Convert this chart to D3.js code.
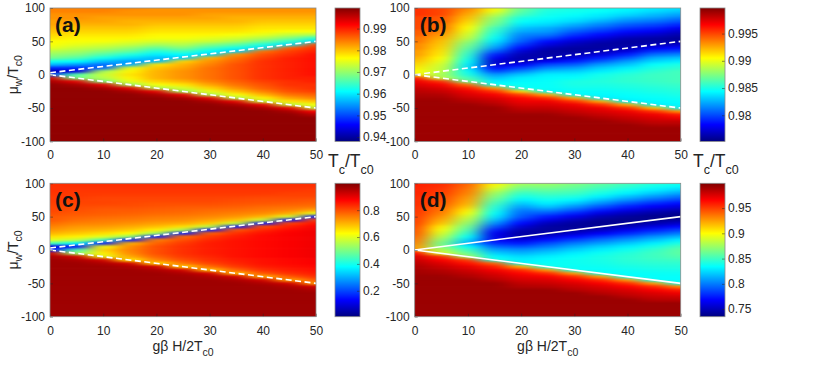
<!DOCTYPE html>
<html>
<head>
<meta charset="utf-8">
<script src="https://cdn.jsdelivr.net/npm/d3@7"></script>
<style>
  body { margin: 0; background: #fff; }
  svg { display: block; }
  text { font-family: "Liberation Sans", Arial, Helvetica, sans-serif; fill: #262626; }
</style>
</head>
<body>
<div id="chart"></div>
<script>
// grid: one column per field value h, rows go from mu = 100 down to mu = -100
const hVals = [0, 5, 10, 15, 20, 25, 30, 35, 40, 45, 50];
const muVals = [100, 95, 90, 85, 80, 75, 70, 65, 60, 55, 50, 45, 40, 35, 30, 25, 20, 15, 10, 5, 0,
  -5, -10, -15, -20, -25, -30, -35, -40, -45, -50, -55, -60, -65, -70, -75, -80, -85, -90, -95, -100];
const xTicks = [0, 10, 20, 30, 40, 50];
const yTicks = [-100, -50, 0, 50, 100];

// Tc/Tc0
const tcA = [
  [.984,.984,.983,.983,.982,.982,.981,.980,.979,.978,.9765,.976,.975,.972,.970,.968,.962,.957,.948,.941,.950,.994,.997,.9985,.9985,.9985,.9985,.9985,.9985,.9985,.9985,.9985,.9985,.9985,.9985,.9985,.9985,.9985,.9985,.9985,.9985],
  [.984,.984,.983,.983,.982,.981,.980,.979,.978,.977,.976,.975,.973,.971,.969,.966,.961,.955,.948,.944,.966,.968,.993,.997,.9985,.9985,.9985,.9985,.9985,.9985,.9985,.9985,.9985,.9985,.9985,.9985,.9985,.9985,.9985,.9985,.9985],
  [.984,.984,.983,.982,.982,.981,.980,.979,.978,.977,.976,.974,.972,.969,.966,.962,.957,.952,.952,.971,.973,.972,.968,.993,.997,.9985,.9985,.9985,.9985,.9985,.9985,.9985,.9985,.9985,.9985,.9985,.9985,.9985,.9985,.9985,.9985],
  [.984,.983,.983,.982,.981,.981,.980,.979,.978,.977,.975,.973,.970,.967,.963,.959,.955,.956,.975,.977,.978,.977,.975,.970,.993,.997,.9985,.9985,.9985,.9985,.9985,.9985,.9985,.9985,.9985,.9985,.9985,.9985,.9985,.9985,.9985],
  [.983,.983,.983,.982,.981,.980,.979,.978,.977,.976,.974,.971,.967,.963,.960,.957,.957,.978,.980,.981,.981,.981,.979,.976,.971,.993,.997,.9985,.9985,.9985,.9985,.9985,.9985,.9985,.9985,.9985,.9985,.9985,.9985,.9985,.9985],
  [.983,.983,.983,.982,.981,.980,.979,.978,.977,.976,.974,.972,.969,.965,.961,.958,.979,.981,.982,.983,.983,.983,.981,.978,.974,.970,.993,.997,.9985,.9985,.9985,.9985,.9985,.9985,.9985,.9985,.9985,.9985,.9985,.9985,.9985],
  [.983,.983,.982,.982,.981,.980,.979,.978,.977,.975,.973,.969,.965,.961,.958,.981,.983,.984,.985,.985,.985,.985,.984,.982,.979,.975,.971,.993,.997,.9985,.9985,.9985,.9985,.9985,.9985,.9985,.9985,.9985,.9985,.9985,.9985],
  [.983,.983,.982,.981,.981,.980,.979,.978,.976,.974,.971,.967,.962,.958,.983,.985,.986,.987,.987,.987,.987,.987,.986,.985,.983,.980,.976,.971,.993,.997,.9985,.9985,.9985,.9985,.9985,.9985,.9985,.9985,.9985,.9985,.9985],
  [.983,.983,.982,.981,.980,.979,.978,.977,.975,.972,.968,.963,.959,.985,.987,.988,.989,.989,.989,.989,.989,.989,.988,.987,.986,.984,.981,.977,.972,.993,.997,.9985,.9985,.9985,.9985,.9985,.9985,.9985,.9985,.9985,.9985],
  [.983,.983,.982,.981,.980,.979,.978,.976,.973,.969,.964,.959,.986,.988,.989,.990,.990,.990,.990,.990,.990,.990,.989,.989,.988,.987,.985,.982,.978,.972,.993,.997,.9985,.9985,.9985,.9985,.9985,.9985,.9985,.9985,.9985],
  [.983,.983,.982,.981,.980,.979,.978,.976,.972,.964,.959,.987,.989,.990,.991,.991,.991,.991,.991,.991,.991,.990,.990,.989,.989,.988,.986,.984,.980,.976,.972,.992,.996,.9985,.9985,.9985,.9985,.9985,.9985,.9985,.9985]
];

// Tc/Tc0
const tcB = [
  [.9955,.9955,.9955,.995,.995,.995,.995,.9945,.9945,.994,.994,.9935,.9935,.993,.993,.9925,.992,.9915,.991,.9905,.991,.996,.997,.9975,.998,.9983,.9986,.9988,.999,.999,.999,.999,.999,.999,.999,.999,.999,.999,.999,.999,.999],
  [.995,.995,.995,.9945,.9945,.994,.994,.9935,.993,.9925,.992,.9918,.9915,.9912,.991,.9905,.990,.9895,.9892,.989,.9885,.989,.9955,.9968,.9975,.998,.9985,.9988,.999,.999,.999,.999,.999,.999,.999,.999,.999,.999,.999,.999,.999],
  [.9935,.993,.9925,.992,.9915,.991,.9905,.990,.9895,.989,.988,.9873,.9867,.986,.9855,.985,.9845,.984,.9838,.9845,.985,.986,.987,.994,.996,.997,.9975,.998,.9985,.999,.999,.999,.999,.999,.999,.999,.999,.999,.999,.999,.999],
  [.9905,.990,.989,.988,.9875,.987,.986,.9855,.985,.9845,.9838,.983,.982,.9805,.979,.978,.977,.9772,.9785,.980,.9818,.983,.984,.9845,.993,.9955,.9968,.9975,.998,.9985,.999,.999,.999,.999,.999,.999,.999,.999,.999,.999,.999],
  [.987,.9865,.986,.985,.9845,.9838,.983,.9823,.9815,.981,.9805,.9795,.9785,.9772,.9765,.9762,.9765,.978,.9798,.9815,.983,.984,.9843,.9845,.9845,.9915,.995,.9965,.997,.9975,.998,.9985,.999,.999,.999,.999,.999,.999,.999,.999,.999],
  [.9855,.985,.9848,.9845,.984,.9835,.9825,.982,.9812,.980,.9785,.9775,.9765,.976,.976,.9765,.978,.980,.9815,.983,.984,.9843,.9845,.9845,.9845,.9843,.9925,.9955,.997,.9975,.998,.9985,.999,.999,.999,.999,.999,.999,.999,.999,.999],
  [.985,.9848,.9845,.984,.9835,.9825,.9815,.9805,.9795,.9785,.9772,.9765,.976,.976,.9765,.9775,.979,.9805,.982,.9832,.984,.9845,.985,.985,.9848,.9845,.9843,.9925,.9955,.997,.9975,.998,.9985,.999,.999,.999,.999,.999,.999,.999,.999],
  [.9848,.9845,.984,.9835,.9825,.9815,.9805,.9795,.9785,.9775,.9765,.976,.976,.9765,.9775,.979,.9805,.982,.9832,.984,.9848,.985,.9852,.985,.9848,.9845,.9843,.984,.9925,.9955,.997,.9975,.998,.9985,.999,.999,.999,.999,.999,.999,.999],
  [.9845,.984,.9835,.9825,.9815,.9805,.9795,.9785,.9775,.9765,.976,.976,.9765,.9775,.979,.9805,.982,.983,.984,.9848,.9853,.9855,.9855,.9852,.985,.9847,.9845,.9843,.984,.9925,.9955,.997,.9975,.998,.9985,.999,.999,.999,.999,.999,.999],
  [.984,.9835,.9828,.982,.981,.980,.979,.978,.977,.9762,.976,.9765,.978,.9795,.981,.9825,.9835,.9845,.985,.9855,.9858,.9858,.9857,.9855,.9852,.985,.9847,.9845,.9843,.984,.992,.9955,.997,.9975,.998,.9985,.999,.999,.999,.999,.999],
  [.9838,.983,.9822,.9812,.9802,.9792,.978,.977,.9763,.9758,.976,.977,.9785,.980,.9815,.983,.984,.985,.9855,.986,.986,.986,.986,.9857,.9855,.9852,.985,.9847,.9845,.9843,.984,.993,.996,.997,.998,.9985,.999,.999,.999,.999,.999]
];

// Tc/Tc0
const tcC = [
  [.83,.83,.83,.825,.82,.82,.815,.81,.81,.80,.79,.79,.77,.75,.73,.70,.66,.60,.45,.10,.15,.92,.955,.97,.97,.97,.97,.97,.97,.97,.97,.97,.97,.97,.97,.97,.97,.97,.97,.97,.97],
  [.83,.83,.825,.82,.82,.815,.81,.805,.80,.79,.78,.77,.75,.73,.71,.68,.64,.57,.38,.15,.45,.52,.92,.955,.97,.97,.97,.97,.97,.97,.97,.97,.97,.97,.97,.97,.97,.97,.97,.97,.97],
  [.83,.83,.825,.82,.815,.81,.81,.80,.79,.785,.775,.76,.745,.725,.70,.66,.60,.45,.15,.62,.67,.64,.60,.92,.955,.97,.97,.97,.97,.97,.97,.97,.97,.97,.97,.97,.97,.97,.97,.97,.97],
  [.83,.83,.825,.82,.815,.81,.805,.80,.79,.78,.77,.755,.735,.71,.68,.63,.52,.15,.70,.74,.75,.74,.71,.64,.92,.955,.97,.97,.97,.97,.97,.97,.97,.97,.97,.97,.97,.97,.97,.97,.97],
  [.83,.83,.825,.82,.815,.81,.80,.795,.785,.775,.76,.745,.72,.69,.64,.53,.15,.75,.78,.80,.80,.80,.78,.75,.66,.92,.955,.97,.97,.97,.97,.97,.97,.97,.97,.97,.97,.97,.97,.97,.97],
  [.83,.83,.825,.82,.815,.81,.80,.79,.78,.77,.755,.74,.71,.66,.55,.15,.77,.80,.82,.83,.83,.83,.82,.80,.76,.67,.92,.955,.97,.97,.97,.97,.97,.97,.97,.97,.97,.97,.97,.97,.97],
  [.83,.83,.825,.82,.815,.81,.80,.79,.775,.76,.745,.72,.68,.56,.15,.78,.82,.84,.85,.85,.85,.85,.84,.83,.81,.77,.68,.92,.955,.97,.97,.97,.97,.97,.97,.97,.97,.97,.97,.97,.97],
  [.83,.83,.825,.82,.815,.805,.795,.785,.77,.75,.73,.69,.57,.15,.79,.83,.85,.86,.86,.86,.86,.86,.86,.85,.84,.82,.78,.69,.92,.955,.97,.97,.97,.97,.97,.97,.97,.97,.97,.97,.97],
  [.83,.83,.825,.82,.81,.80,.79,.775,.76,.74,.70,.58,.15,.80,.84,.86,.87,.87,.87,.87,.87,.87,.87,.86,.86,.85,.83,.79,.70,.92,.955,.97,.97,.97,.97,.97,.97,.97,.97,.97,.97],
  [.83,.83,.825,.815,.81,.80,.785,.77,.75,.71,.59,.15,.81,.85,.87,.88,.88,.88,.88,.88,.88,.88,.88,.87,.87,.86,.85,.83,.79,.71,.92,.955,.97,.97,.97,.97,.97,.97,.97,.97,.97],
  [.83,.83,.82,.815,.81,.795,.78,.765,.72,.60,.15,.81,.86,.88,.89,.89,.89,.89,.89,.89,.89,.89,.89,.88,.88,.87,.86,.85,.83,.79,.72,.92,.955,.97,.97,.97,.97,.97,.97,.97,.97]
];

// Tc/Tc0
const tcD = [
  [.958,.958,.957,.957,.956,.955,.955,.954,.953,.952,.951,.950,.949,.947,.945,.943,.940,.936,.932,.927,.93,.965,.975,.98,.984,.987,.989,.990,.992,.992,.992,.992,.992,.992,.992,.992,.992,.992,.992,.992,.992],
  [.955,.954,.952,.95,.948,.946,.943,.94,.937,.933,.928,.922,.915,.905,.897,.89,.882,.872,.865,.868,.88,.89,.955,.967,.975,.98,.985,.988,.992,.992,.992,.992,.992,.992,.992,.992,.992,.992,.992,.992,.992],
  [.94,.938,.935,.932,.928,.924,.92,.914,.905,.897,.888,.88,.872,.863,.855,.846,.836,.824,.815,.835,.85,.862,.875,.95,.962,.972,.978,.983,.987,.992,.992,.992,.992,.992,.992,.992,.992,.992,.992,.992,.992],
  [.903,.895,.885,.875,.868,.86,.852,.845,.84,.835,.828,.818,.805,.79,.775,.765,.762,.765,.78,.795,.81,.822,.832,.84,.94,.958,.968,.975,.98,.985,.992,.992,.992,.992,.992,.992,.992,.992,.992,.992,.992],
  [.877,.868,.858,.848,.84,.83,.82,.81,.80,.795,.79,.78,.77,.757,.748,.744,.746,.76,.775,.79,.805,.815,.825,.83,.832,.92,.955,.965,.972,.977,.982,.986,.992,.992,.992,.992,.992,.992,.992,.992,.992],
  [.875,.868,.86,.852,.845,.838,.83,.82,.805,.79,.775,.762,.75,.744,.742,.745,.758,.772,.788,.80,.812,.822,.83,.834,.836,.836,.925,.955,.968,.975,.98,.985,.992,.992,.992,.992,.992,.992,.992,.992,.992],
  [.868,.862,.856,.85,.842,.832,.82,.806,.792,.777,.762,.75,.743,.741,.744,.755,.77,.785,.80,.812,.822,.83,.835,.837,.837,.836,.835,.925,.955,.967,.975,.98,.985,.992,.992,.992,.992,.992,.992,.992,.992],
  [.86,.854,.847,.84,.83,.818,.805,.79,.775,.76,.748,.741,.739,.742,.752,.766,.782,.797,.81,.822,.83,.837,.84,.84,.839,.837,.835,.834,.925,.955,.967,.975,.98,.985,.992,.992,.992,.992,.992,.992,.992],
  [.852,.846,.838,.83,.818,.805,.79,.776,.762,.75,.742,.738,.741,.75,.763,.778,.793,.807,.82,.83,.838,.843,.845,.845,.843,.84,.837,.835,.834,.925,.955,.967,.975,.98,.985,.992,.992,.992,.992,.992,.992],
  [.845,.838,.83,.82,.807,.793,.779,.766,.754,.744,.738,.74,.748,.76,.775,.79,.805,.818,.83,.84,.847,.85,.85,.848,.845,.842,.839,.836,.835,.834,.925,.955,.967,.975,.98,.985,.992,.992,.992,.992,.992],
  [.84,.832,.822,.81,.797,.784,.771,.759,.748,.74,.737,.742,.755,.77,.785,.80,.815,.83,.842,.852,.858,.858,.855,.85,.846,.843,.84,.837,.835,.834,.834,.93,.958,.97,.978,.984,.992,.992,.992,.992,.992]
];

// colour limits and colorbar ticks of each panel
const climA = [0.938, 0.9995], climB = [0.9752, 0.9997], climC = [0.007, 1.0], climD = [0.735, 0.999];
const cTicksA = [0.94, 0.95, 0.96, 0.97, 0.98, 0.99];
const cTicksB = [0.98, 0.985, 0.99, 0.995];
const cTicksC = [0.2, 0.4, 0.6, 0.8];
const cTicksD = [0.75, 0.8, 0.85, 0.9, 0.95];

// boundary lines mu = +h and mu = -h
const lineH = [0, 50];
const upperMuAC = [3, 50], upperMuBD = [0, 50], lowerMu = [0, -50];

// matlab jet
const jetStops = [0, 0.125, 0.375, 0.625, 0.875, 1];
const jetColors = ["#000080", "#0000ff", "#00ffff", "#ffff00", "#ff0000", "#800000"];
function jet(clim) {
  return d3.scaleLinear()
    .domain(jetStops.map(t => clim[0] + t * (clim[1] - clim[0])))
    .range(jetColors)
    .clamp(true);
}

const panels = [
  {key: "a", grid: tcA, clim: climA, cticks: cTicksA, upper: upperMuAC, dashed: true,  left: 50,    top: 8,     cbLeft: 335},
  {key: "b", grid: tcB, clim: climB, cticks: cTicksB, upper: upperMuBD, dashed: true,  left: 414.7, top: 8,     cbLeft: 700},
  {key: "c", grid: tcC, clim: climC, cticks: cTicksC, upper: upperMuAC, dashed: true,  left: 50,    top: 183.3, cbLeft: 335},
  {key: "d", grid: tcD, clim: climD, cticks: cTicksD, upper: upperMuBD, dashed: false, left: 414.7, top: 183.3, cbLeft: 700}
];

const W = 830, H = 371;
const panelW = 266, panelH = 133.4, cbW = 25;
const hStep = 5, muStep = 5;

const svg = d3.select("#chart")
  .append("svg")
    .attr("width", W)
    .attr("height", H);

const defs = svg.append("defs");
const grad = defs.append("linearGradient")
  .attr("id", "jetGrad")
  .attr("x1", 0).attr("y1", 1).attr("x2", 0).attr("y2", 0);
grad.selectAll("stop")
  .data(jetStops)
  .join("stop")
    .attr("offset", d => d)
    .attr("stop-color", (d, i) => jetColors[i]);

// soften the cell edges a little, mostly along h (like shaded pcolor)
const soft = defs.append("filter")
  .attr("id", "soft")
  .attr("x", -0.1).attr("y", -0.1).attr("width", 1.2).attr("height", 1.2)
  .attr("color-interpolation-filters", "sRGB");
soft.append("feGaussianBlur").attr("stdDeviation", "9 1.2");

const x = d3.scaleLinear().domain([0, 50]).range([0, panelW]);
const y = d3.scaleLinear().domain([-100, 100]).range([panelH, 0]);

const line = d3.line()
  .x(d => x(d[0]))
  .y(d => y(d[1]));

panels.forEach(p => {
  p.grid.forEach((col, i) => { if (col.length !== muVals.length) console.warn(p.key, i, col.length); });

  const g = svg.append("g").attr("transform", `translate(${p.left},${p.top})`);
  const color = jet(p.clim);

  defs.append("clipPath").attr("id", "clip" + p.key)
    .append("rect").attr("width", panelW).attr("height", panelH);

  const cells = [];
  p.grid.forEach((col, i) => col.forEach((v, j) => cells.push({i: i, j: j, h: hVals[i], mu: muVals[j], v: v})));

  const last = hVals.length - 1, lastRow = muVals.length - 1;
  // edge cells reach past the frame so the softening does not fade at the border
  const cx0 = d => d.i === 0 ? -10 : d.h - hStep / 2;
  const cx1 = d => d.i === last ? 60 : d.h + hStep / 2;
  const cy0 = d => d.j === 0 ? 110 : d.mu + muStep / 2;
  const cy1 = d => d.j === lastRow ? -110 : d.mu - muStep / 2;

  // heatmap cells
  g.append("g")
    .attr("clip-path", `url(#clip${p.key})`)
    .append("g")
    .attr("filter", "url(#soft)")
    .selectAll("rect")
    .data(cells)
    .join("rect")
      .attr("x", d => x(cx0(d)))
      .attr("y", d => y(cy0(d)))
      .attr("width", d => x(cx1(d)) - x(cx0(d)) + 0.6)
      .attr("height", d => y(cy1(d)) - y(cy0(d)) + 0.6)
      .attr("fill", d => color(d.v));

  // boundary lines
  [p.upper, lowerMu].forEach(mu => {
    g.append("path")
      .datum(lineH.map((h, k) => [h, mu[k]]))
      .attr("d", line)
      .attr("fill", "none")
      .attr("stroke", "#fff")
      .attr("stroke-width", 1.6)
      .attr("stroke-dasharray", p.dashed ? "6,3.5" : null);
  });

  // axes
  g.append("g")
    .attr("transform", `translate(0,${panelH})`)
    .call(d3.axisBottom(x).tickValues(xTicks).tickSize(-3).tickPadding(9.5).tickFormat(d => String(d)))
    .call(a => a.select(".domain").remove())
    .call(a => a.selectAll("line").attr("stroke", "#262626").attr("stroke-width", 0.5))
    .call(a => a.selectAll("text").attr("font-size", 12));

  g.append("g")
    .call(d3.axisLeft(y).tickValues(yTicks).tickSize(-3).tickPadding(5).tickFormat(d => String(d)))
    .call(a => a.select(".domain").remove())
    .call(a => a.selectAll("line").attr("stroke", "#262626").attr("stroke-width", 0.5))
    .call(a => a.selectAll("text").attr("font-size", 12));

  g.append("rect")
    .attr("width", panelW)
    .attr("height", panelH)
    .attr("fill", "none")
    .attr("stroke", "#8a8a8a")
    .attr("stroke-width", 0.8);

  g.append("text")
    .attr("x", 5)
    .attr("y", 23.5)
    .attr("font-size", 21)
    .attr("font-weight", "bold")
    .style("fill", "#111")
    .text(`(${p.key})`);

  // colorbar
  const cy = d3.scaleLinear().domain(p.clim).range([panelH, 0]);
  const cb = svg.append("g").attr("transform", `translate(${p.cbLeft},${p.top})`);
  cb.append("rect")
    .attr("width", cbW)
    .attr("height", panelH)
    .attr("fill", "url(#jetGrad)");
  cb.append("g")
    .attr("transform", `translate(${cbW},0)`)
    .call(d3.axisRight(cy).tickValues(p.cticks).tickSize(-3).tickPadding(3).tickFormat(d => String(d)))
    .call(a => a.select(".domain").remove())
    .call(a => a.selectAll("line").attr("stroke", "#262626").attr("stroke-width", 0.5))
    .call(a => a.selectAll("text").attr("font-size", 12));
  cb.append("rect")
    .attr("width", cbW)
    .attr("height", panelH)
    .attr("fill", "none")
    .attr("stroke", "#8a8a8a")
    .attr("stroke-width", 0.8);
});

// text helper: pieces of [string, isSubscript]
function richText(sel, pieces, size, subSize, shift) {
  let down = false;
  pieces.forEach(([s, sub]) => {
    const t = sel.append("tspan").text(s).attr("font-size", sub ? subSize : size);
    if (sub && !down) { t.attr("dy", shift); down = true; }
    else if (!sub && down) { t.attr("dy", -shift); down = false; }
  });
}

// y labels
[8, 183.3].forEach(top => {
  const t = svg.append("text")
    .attr("transform", `translate(18,${top + panelH / 2}) rotate(-90)`)
    .attr("text-anchor", "middle");
  richText(t, [["\u03bc", false], ["w", true], ["/T", false], ["c0", true]], 14, 10.5, 4);
});

// x labels
[50, 414.7].forEach(left => {
  const t = svg.append("text")
    .attr("x", left + panelW / 2)
    .attr("y", 351)
    .attr("text-anchor", "middle");
  richText(t, [["g\u03b2 H/2T", false], ["c0", true]], 14, 10.5, 5);
});

// colorbar titles
[328, 693].forEach(left => {
  const t = svg.append("text")
    .attr("x", left)
    .attr("y", 166.5);
  richText(t, [["T", false], ["c", true], ["/T", false], ["c0", true]], 17.5, 12.5, 7);
});
</script>
</body>
</html>
